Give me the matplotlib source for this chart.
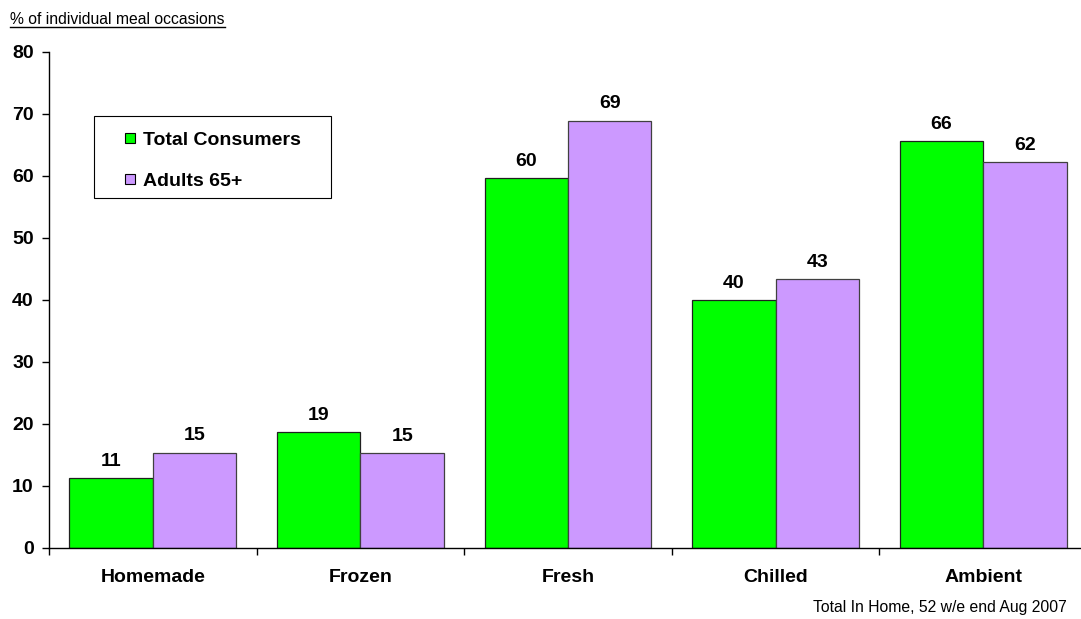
import numpy as np
import matplotlib.pyplot as plt
from matplotlib.lines import Line2D
from matplotlib.patches import Rectangle

plt.rcParams['font.family'] = ['Liberation Sans', 'DejaVu Sans']

categories = ["Homemade", "Frozen", "Fresh", "Chilled", "Ambient"]
total_consumers = [11.3, 18.7, 59.6, 40.0, 65.6]
adults_65 = [15.4, 15.3, 68.9, 43.4, 62.2]
total_labels = ["11", "19", "60", "40", "66"]
adults_labels = ["15", "15", "69", "43", "62"]

GREEN = "#00FF00"
PURPLE = "#CC99FF"

fig = plt.figure(figsize=(10.81, 6.19), dpi=100)
W, H = 1081, 619
# axes from x=49 to ~1087 px, y from 52 to 548 px
ax = fig.add_axes([49 / W, 1 - 548 / H, (1087 - 49) / W, (548 - 52) / H])

x = np.arange(len(categories))
w = 0.402
b1 = ax.bar(x - w / 2, total_consumers, w, color=GREEN, edgecolor="#202020", linewidth=0.9)
b2 = ax.bar(x + w / 2, adults_65, w, color=PURPLE, edgecolor="#404040", linewidth=0.9)

for bars, labs in [(b1, total_labels), (b2, adults_labels)]:
    for rect, lab in zip(bars, labs):
        ax.annotate(lab, (rect.get_x() + rect.get_width() / 2, rect.get_height()),
                    textcoords="offset points", xytext=(0, 6), ha="center", va="bottom",
                    fontsize=14, fontweight="bold")

ax.set_xlim(-0.5, len(categories) - 0.5)
ax.set_ylim(0, 80)
ax.set_yticks(range(0, 81, 10))
ax.set_yticklabels([str(v) for v in range(0, 81, 10)], fontsize=14, fontweight="bold")
ax.tick_params(axis="y", direction="out", length=5, width=1, pad=6)

# category boundary ticks on x, labels centred between them
ax.set_xticks(np.arange(-0.5, len(categories), 1.0))
ax.set_xticklabels([])
ax.set_xticks(x, minor=True)
ax.set_xticklabels(categories, minor=True, fontsize=14, fontweight="bold")
ax.tick_params(axis="x", which="major", direction="out", length=5, width=1)
ax.tick_params(axis="x", which="minor", length=0, pad=15)

for s in ["top", "right"]:
    ax.spines[s].set_visible(False)
ax.spines["left"].set_linewidth(1)
ax.spines["bottom"].set_linewidth(1)

# legend: frame drawn separately so padding matches the original box
handles = [Line2D([], [], linestyle="none", marker="s", markersize=7.3,
                  markerfacecolor=GREEN, markeredgecolor="black", markeredgewidth=0.8),
           Line2D([], [], linestyle="none", marker="s", markersize=7.3,
                  markerfacecolor=PURPLE, markeredgecolor="black", markeredgewidth=0.8)]
leg = fig.legend(handles, ["Total Consumers", "Adults 65+"], loc="upper left",
                 bbox_to_anchor=(125 / W, 1 - 131 / H), frameon=False,
                 prop={"weight": "bold", "size": 14}, handlelength=0.55,
                 handletextpad=0.4, labelspacing=1.22, borderpad=0, borderaxespad=0)
fig.add_artist(Rectangle((94 / W, 1 - 198 / H), (331 - 94) / W, (198 - 116) / H,
                         transform=fig.transFigure, facecolor="white", edgecolor="black",
                         linewidth=0.8, zorder=1))
leg.set_zorder(2)

t = fig.text(10 / W, 1 - 24 / H, "% of individual meal occasions", fontsize=11.3, va="baseline")
fig.text(1067 / W, 1 - 612 / H, "Total In Home, 52 w/e end Aug 2007", fontsize=11.3,
         ha="right", va="baseline")

# underline the unit note
fig.canvas.draw()
bb = t.get_window_extent(renderer=fig.canvas.get_renderer()).transformed(fig.transFigure.inverted())
fig.add_artist(Line2D([bb.x0, bb.x1], [1 - 27 / H, 1 - 27 / H], color="black", linewidth=1,
                      transform=fig.transFigure))

fig.savefig("out.png", dpi=100)
